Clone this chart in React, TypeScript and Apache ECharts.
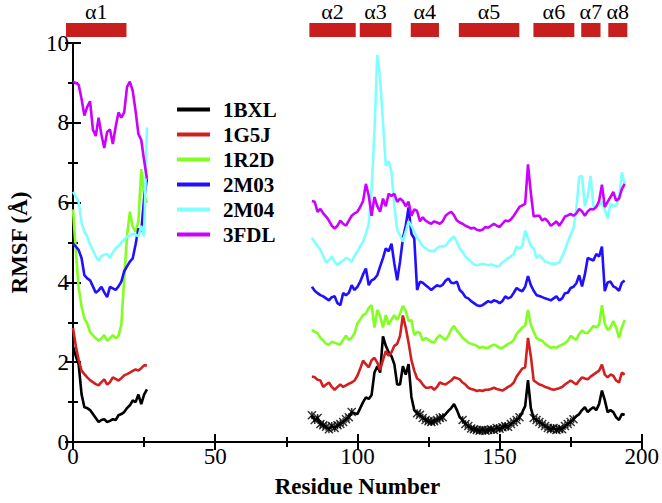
import React, { useEffect, useRef } from "react";
import * as echarts from "echarts";

const LEFT_START = 0;
const RIGHT_START = 84;

const seriesNames = ["1BXL", "1G5J", "1R2D", "2M03", "2M04", "3FDL"];
const seriesColors = ["#000000", "#d22020", "#80ff20", "#2010ff", "#80ffff", "#cc00ff"];

// residues 0..26
const left1BXL = [2.4, 2.15, 1.94, 1.2, 0.87, 0.85, 0.8, 0.7, 0.6, 0.5, 0.55, 0.57, 0.5, 0.53, 0.57, 0.55, 0.67, 0.7, 0.75, 0.85, 0.92, 1.04, 1.0, 1.19, 0.95, 1.19, 1.32];
const left1G5J = [2.86, 2.4, 2.06, 1.79, 1.7, 1.62, 1.55, 1.5, 1.45, 1.42, 1.5, 1.57, 1.44, 1.5, 1.62, 1.58, 1.54, 1.6, 1.67, 1.7, 1.74, 1.78, 1.82, 1.79, 1.85, 1.92, 1.92];
const left1R2D = [5.83, 4.78, 3.86, 3.4, 3.1, 2.97, 2.75, 2.68, 2.6, 2.54, 2.6, 2.68, 2.54, 2.6, 2.68, 2.6, 2.66, 2.94, 4.09, 5.17, 5.77, 5.4, 5.27, 5.53, 6.84, 6.2, 6.0];
const left2M03 = [4.97, 4.9, 4.81, 4.61, 4.18, 4.1, 4.05, 3.9, 3.74, 3.8, 3.89, 3.75, 3.63, 3.89, 3.85, 3.81, 3.9, 4.02, 4.28, 4.4, 4.52, 4.6, 4.95, 5.35, 5.27, 6.1, 6.6];
const left2M04 = [6.27, 6.15, 6.02, 5.5, 5.27, 5.15, 4.95, 4.81, 4.65, 4.55, 4.66, 4.7, 4.71, 4.61, 4.75, 4.86, 4.91, 5.0, 5.07, 5.15, 5.17, 5.22, 5.2, 5.15, 5.42, 5.15, 7.88];
const left3FDL = [9.03, 9.0, 8.95, 8.6, 8.18, 8.4, 8.54, 7.83, 7.67, 8.13, 7.7, 7.37, 7.77, 7.83, 7.47, 7.9, 8.26, 8.13, 8.26, 8.9, 9.03, 8.8, 8.3, 7.72, 7.57, 7.06, 6.6];

// residues 84..194
const right1BXL = [0.67, 0.55, 0.6, 0.45, 0.42, 0.38, 0.32, 0.4, 0.35, 0.42, 0.45, 0.5, 0.57, 0.62, 0.75, 0.72, 0.7, 0.85, 1.0, 1.12, 1.08, 1.18, 1.74, 1.9, 1.74, 2.65, 2.41, 2.25, 2.15, 1.95, 1.44, 1.44, 1.9, 1.69, 1.95, 1.13, 0.8, 0.72, 0.68, 0.6, 0.55, 0.52, 0.5, 0.52, 0.55, 0.6, 0.62, 0.7, 0.78, 0.85, 0.95, 0.8, 0.62, 0.55, 0.45, 0.4, 0.34, 0.32, 0.3, 0.28, 0.3, 0.28, 0.3, 0.32, 0.3, 0.35, 0.33, 0.37, 0.4, 0.38, 0.45, 0.5, 0.55, 0.62, 0.75, 0.9, 1.55, 0.85, 0.6, 0.55, 0.5, 0.45, 0.4, 0.35, 0.32, 0.35, 0.3, 0.33, 0.32, 0.4, 0.45, 0.5, 0.57, 0.65, 0.7, 0.8, 0.87, 0.75, 0.82, 0.87, 0.8, 0.95, 1.29, 1.05, 0.75, 0.8, 0.75, 0.62, 0.55, 0.7, 0.68];
const right1G5J = [1.64, 1.62, 1.56, 1.54, 1.38, 1.44, 1.49, 1.38, 1.31, 1.38, 1.44, 1.38, 1.42, 1.46, 1.49, 1.54, 1.66, 1.84, 2.04, 1.95, 1.87, 2.05, 2.11, 1.99, 1.81, 2.05, 2.28, 2.16, 2.25, 2.41, 2.46, 2.66, 3.17, 2.87, 2.49, 2.05, 1.79, 1.59, 1.54, 1.44, 1.36, 1.36, 1.38, 1.31, 1.38, 1.49, 1.46, 1.44, 1.49, 1.54, 1.62, 1.6, 1.57, 1.49, 1.44, 1.36, 1.33, 1.31, 1.28, 1.3, 1.28, 1.31, 1.31, 1.33, 1.36, 1.33, 1.31, 1.29, 1.33, 1.38, 1.42, 1.49, 1.64, 1.74, 1.84, 1.87, 2.61, 2.15, 1.54, 1.49, 1.44, 1.42, 1.38, 1.36, 1.33, 1.31, 1.33, 1.35, 1.38, 1.44, 1.49, 1.54, 1.49, 1.44, 1.54, 1.62, 1.59, 1.57, 1.64, 1.69, 1.74, 1.79, 1.94, 1.69, 1.62, 1.69, 1.66, 1.54, 1.49, 1.74, 1.69];
const right1R2D = [2.81, 2.76, 2.73, 2.61, 2.54, 2.46, 2.44, 2.51, 2.49, 2.46, 2.44, 2.56, 2.66, 2.56, 2.61, 2.73, 2.97, 3.07, 3.18, 3.22, 3.36, 3.43, 2.87, 3.31, 3.15, 2.87, 3.18, 2.94, 3.07, 3.18, 3.06, 3.22, 3.41, 3.29, 3.03, 3.06, 2.68, 2.76, 2.73, 2.54, 2.61, 2.56, 2.51, 2.49, 2.61, 2.68, 2.61, 2.56, 2.66, 2.82, 2.91, 2.79, 2.71, 2.61, 2.56, 2.49, 2.46, 2.44, 2.41, 2.36, 2.38, 2.36, 2.36, 2.41, 2.44, 2.41, 2.36, 2.36, 2.41, 2.46, 2.49, 2.56, 2.71, 2.79, 2.87, 2.92, 3.31, 2.94, 2.76, 2.61, 2.56, 2.54, 2.46, 2.41, 2.36, 2.38, 2.36, 2.41, 2.44, 2.48, 2.54, 2.66, 2.61, 2.56, 2.71, 2.79, 2.74, 2.73, 2.82, 2.91, 2.87, 2.94, 3.43, 2.97, 2.81, 2.87, 3.03, 2.87, 2.61, 2.87, 3.06];
const right2M03 = [3.89, 3.79, 3.73, 3.68, 3.65, 3.6, 3.55, 3.63, 3.65, 3.48, 3.43, 3.73, 3.68, 3.74, 3.93, 3.81, 3.89, 4.02, 4.2, 4.35, 3.93, 4.05, 4.09, 4.18, 4.4, 4.61, 4.85, 4.78, 4.97, 4.47, 4.05, 4.52, 5.1, 5.42, 5.88, 5.22, 5.1, 3.81, 4.02, 3.99, 3.93, 3.87, 3.81, 3.87, 3.93, 3.9, 3.94, 4.04, 4.1, 3.99, 3.98, 4.02, 3.81, 3.74, 3.63, 3.6, 3.53, 3.48, 3.43, 3.41, 3.43, 3.48, 3.53, 3.5, 3.55, 3.53, 3.48, 3.53, 3.65, 3.6, 3.63, 3.74, 3.86, 3.81, 3.78, 3.89, 4.16, 3.93, 3.79, 3.68, 3.66, 3.63, 3.6, 3.58, 3.55, 3.6, 3.65, 3.55, 3.6, 3.73, 3.74, 3.86, 3.89, 3.98, 4.18, 3.9, 4.2, 4.61, 4.58, 4.55, 4.71, 4.65, 4.9, 3.78, 4.0, 4.02, 3.9, 3.86, 3.79, 3.99, 4.05];
const right2M04 = [5.12, 5.01, 4.91, 4.81, 4.66, 4.5, 4.55, 4.65, 4.52, 4.43, 4.5, 4.55, 4.61, 4.58, 4.52, 4.66, 4.78, 4.91, 5.02, 5.22, 5.47, 6.34, 7.77, 9.7, 9.1, 8.01, 6.92, 7.04, 6.76, 5.91, 5.32, 5.18, 5.02, 5.27, 5.53, 5.42, 5.27, 5.12, 5.02, 4.9, 4.86, 4.8, 4.79, 4.78, 4.86, 4.9, 4.91, 4.92, 5.01, 5.1, 5.15, 5.01, 4.85, 4.76, 4.65, 4.58, 4.52, 4.45, 4.43, 4.45, 4.47, 4.45, 4.43, 4.45, 4.43, 4.4, 4.42, 4.5, 4.55, 4.61, 4.65, 4.71, 4.9, 4.85, 4.91, 5.3, 5.1, 4.91, 4.85, 4.61, 4.68, 4.61, 4.52, 4.5, 4.47, 4.47, 4.47, 4.5, 4.65, 4.81, 5.02, 5.2, 5.35, 5.84, 6.64, 6.67, 5.91, 6.14, 6.67, 5.91, 5.91, 5.93, 6.02, 5.83, 5.6, 5.97, 5.91, 5.93, 6.1, 6.76, 6.47];
const right3FDL = [6.04, 6.02, 5.77, 5.84, 5.73, 5.65, 5.55, 5.42, 5.35, 5.42, 5.55, 5.47, 5.42, 5.55, 5.67, 5.73, 5.77, 5.89, 6.04, 6.47, 6.17, 5.67, 6.14, 5.91, 5.77, 6.1, 5.91, 6.22, 6.17, 6.22, 6.02, 6.1, 6.04, 5.91, 6.02, 5.67, 5.83, 5.79, 5.53, 5.63, 5.55, 5.5, 5.47, 5.53, 5.5, 5.47, 5.53, 5.67, 5.73, 5.77, 5.68, 5.55, 5.5, 5.47, 5.42, 5.39, 5.35, 5.37, 5.32, 5.3, 5.32, 5.39, 5.37, 5.42, 5.47, 5.42, 5.39, 5.47, 5.55, 5.53, 5.58, 5.67, 5.78, 5.89, 5.93, 5.97, 6.96, 6.24, 5.65, 5.67, 5.67, 5.55, 5.6, 5.53, 5.42, 5.47, 5.53, 5.42, 5.53, 5.65, 5.68, 5.72, 5.67, 5.73, 5.84, 5.78, 5.67, 5.78, 5.84, 5.83, 5.89, 6.04, 6.45, 5.89, 6.02, 6.14, 6.27, 6.05, 6.1, 6.34, 6.47];

// residue ranges where 1BXL points carry cross markers
const markerRanges = [[84, 98], [121, 130], [137, 157], [162, 176]];

// helix annotations
const helixLabels = ["α1", "α2", "α3", "α4", "α5", "α6", "α7", "α8"];
const helixStarts = [0, 84.5, 102, 119.7, 136.4, 162.3, 178.9, 188.3];
const helixEnds = [21, 100.6, 113, 129.5, 157.4, 176.5, 185.6, 194.9];

const xTicks = [0, 200, 50];
const yTicks = [0, 10, 2];

const leftData = [left1BXL, left1G5J, left1R2D, left2M03, left2M04, left3FDL];
const rightData = [right1BXL, right1G5J, right1R2D, right2M03, right2M04, right3FDL];

const SERIF = "Liberation Serif";

function buildPoints(l: number[], r: number[]) {
  const pts: any[] = l.map((v, i) => [LEFT_START + i, v]);
  pts.push([LEFT_START + l.length, "-"]);
  r.forEach((v, i) => pts.push([RIGHT_START + i, v]));
  return pts;
}

export default function App() {
  const ref = useRef<HTMLDivElement>(null);
  useEffect(() => {
    if (!ref.current) return;
    const chart = echarts.init(ref.current, undefined, { renderer: "svg" });

    const axisLine = { lineStyle: { color: "#000", width: 2 } };
    const tick = { inside: true, length: 8, lineStyle: { color: "#000", width: 2 } };
    const minor = { show: true, splitNumber: 2, length: 5, lineStyle: { color: "#000", width: 2 } };

    const lineSeries = seriesNames.map((name, k) => ({
      name,
      type: "line",
      xAxisIndex: 0,
      yAxisIndex: 0,
      data: buildPoints(leftData[k], rightData[k]),
      symbol: "none",
      showSymbol: false,
      connectNulls: false,
      lineStyle: { color: seriesColors[k], width: 2.6 },
      itemStyle: { color: seriesColors[k] },
      z: 2 + k,
    }));

    const markerPts: any[] = [];
    right1BXL.forEach((v, i) => {
      const r = RIGHT_START + i;
      if (markerRanges.some(([a, b]) => r >= a && r <= b)) markerPts.push([r, v]);
    });

    const option: any = {
      animation: false,
      textStyle: { fontFamily: SERIF },
      grid: [
        { left: 66, right: 20, top: 43, bottom: 58, containLabel: false },
        { left: 66, right: 20, top: 23, height: 14, containLabel: false },
      ],
      legend: {
        data: seriesNames,
        orient: "vertical",
        left: 172,
        top: 94,
        icon: "rect",
        itemWidth: 33,
        itemHeight: 4,
        itemGap: 4,
        textStyle: {
          fontFamily: SERIF,
          fontWeight: "bold",
          fontSize: 21,
          color: "#000",
          lineHeight: 21,
          padding: [0, 0, 0, 8],
        },
      },
      xAxis: [
        {
          type: "value",
          gridIndex: 0,
          min: xTicks[0],
          max: xTicks[1],
          interval: xTicks[2],
          position: "bottom",
          name: "Residue Number",
          nameLocation: "middle",
          nameGap: 33,
          nameTextStyle: { fontFamily: SERIF, fontWeight: "bold", fontSize: 23, color: "#000" },
          axisLine,
          axisTick: tick,
          minorTick: minor,
          splitLine: { show: false },
          axisLabel: { fontFamily: SERIF, fontSize: 23, color: "#000", margin: 3 },
        },
        {
          type: "value",
          gridIndex: 0,
          min: xTicks[0],
          max: xTicks[1],
          interval: xTicks[2],
          position: "top",
          axisLine,
          axisTick: tick,
          minorTick: minor,
          splitLine: { show: false },
          axisLabel: { show: false },
        },
        {
          type: "value",
          gridIndex: 1,
          min: xTicks[0],
          max: xTicks[1],
          show: false,
        },
      ],
      yAxis: [
        {
          type: "value",
          gridIndex: 0,
          min: yTicks[0],
          max: yTicks[1],
          interval: yTicks[2],
          position: "left",
          name: "RMSF (Å)",
          nameLocation: "middle",
          nameGap: 42,
          nameRotate: 90,
          nameTextStyle: { fontFamily: SERIF, fontWeight: "bold", fontSize: 23, color: "#000" },
          axisLine,
          axisTick: tick,
          minorTick: minor,
          splitLine: { show: false },
          axisLabel: { fontFamily: SERIF, fontSize: 23, color: "#000", margin: 4 },
        },
        {
          type: "value",
          gridIndex: 0,
          min: yTicks[0],
          max: yTicks[1],
          interval: yTicks[2],
          position: "right",
          axisLine,
          axisTick: tick,
          minorTick: minor,
          splitLine: { show: false },
          axisLabel: { show: false },
        },
        {
          type: "value",
          gridIndex: 1,
          min: 0,
          max: 1,
          show: false,
        },
      ],
      series: [
        ...lineSeries.slice(0, 1),
        {
          name: "1BXL-markers",
          type: "scatter",
          xAxisIndex: 0,
          yAxisIndex: 0,
          data: markerPts,
          symbol: "path://M0,0L10,10M10,0L0,10M5,0L5,10",
          symbolSize: 8,
          itemStyle: { color: "rgba(0,0,0,0)", borderColor: "#000", borderWidth: 1.5 },
          z: 2,
          silent: true,
        },
        ...lineSeries.slice(1),
        {
          name: "helices",
          type: "custom",
          xAxisIndex: 2,
          yAxisIndex: 2,
          clip: false,
          silent: true,
          data: helixStarts.map((s, i) => [s, helixEnds[i]]),
          renderItem: (params: any, api: any) => {
            const p1 = api.coord([api.value(0), 1]);
            const p2 = api.coord([api.value(1), 0]);
            return {
              type: "group",
              children: [
                {
                  type: "rect",
                  shape: { x: p1[0], y: p1[1], width: p2[0] - p1[0], height: p2[1] - p1[1] },
                  style: { fill: "#c81e1e" },
                },
                {
                  type: "text",
                  x: (p1[0] + p2[0]) / 2,
                  y: p1[1] - 1,
                  style: {
                    text: helixLabels[params.dataIndex],
                    fontFamily: SERIF,
                    fontSize: 22,
                    fill: "#000",
                    align: "center",
                    verticalAlign: "bottom",
                  },
                },
              ],
            };
          },
        },
      ],
    };
    chart.setOption(option);
    return () => chart.dispose();
  }, []);

  return (
    <div
      ref={ref}
      style={{ position: "fixed", left: 0, top: 0, width: 662, height: 503, background: "#fff" }}
    />
  );
}
